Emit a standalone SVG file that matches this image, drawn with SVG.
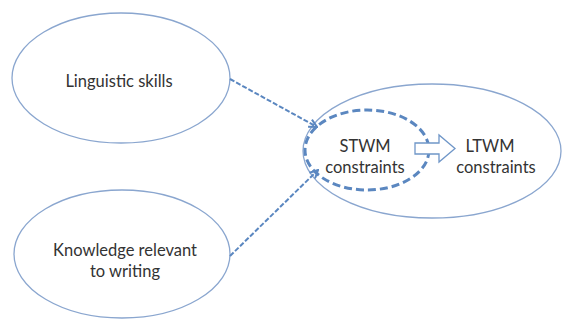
<svg xmlns="http://www.w3.org/2000/svg" width="566" height="322" viewBox="0 0 566 322">
<style>
.node{fill:#fff;stroke:#8aa6cf;stroke-width:1.3}
.lbl{font-family:Lato,"Open Sans",sans-serif;font-size:16.5px;fill:#333;text-anchor:middle}
.conn{fill:none;stroke:#5b87c0;stroke-width:2;stroke-dasharray:5 2}
</style>
<defs>
<marker id="ah" viewBox="0 0 10 10" refX="9" refY="5" markerWidth="5" markerHeight="5" orient="auto">
<path d="M1,1 L9,5 L1,9" fill="none" stroke="#5b87c0" stroke-width="2"/>
</marker>
</defs>
<rect width="566" height="322" fill="#fff"/>
<g id="n-ling">
<ellipse class="node" cx="121" cy="78" rx="109" ry="65"/>
<text class="lbl" x="119" y="87">Linguistic skills</text>
</g>
<g id="n-know">
<ellipse class="node" cx="122" cy="254" rx="108" ry="64"/>
<text class="lbl" x="125" y="256">Knowledge relevant</text>
<text class="lbl" x="125" y="277">to writing</text>
</g>
<g id="n-ltwm">
<ellipse class="node" cx="432" cy="151" rx="129" ry="67"/>
<text class="lbl" x="490" y="152">LTWM</text>
<text class="lbl" x="496" y="173">constraints</text>
</g>
<g id="n-stwm">
<ellipse cx="367" cy="150" rx="62" ry="40" fill="none" stroke="#5b87c0" stroke-width="3" stroke-dasharray="8 4"/>
<text class="lbl" x="365" y="152">STWM</text>
<text class="lbl" x="365" y="173">constraints</text>
</g>
<g id="connectors">
<path class="conn" d="M230,79 L317,127" marker-end="url(#ah)"/>
<path class="conn" d="M230,256 L318,170" marker-end="url(#ah)"/>
<path d="M415,143 L439,143 L439,135 L455,148.5 L439,162 L439,154 L415,154 Z" fill="#fff" stroke="#6f96c8" stroke-width="1.3"/>
</g>
</svg>
